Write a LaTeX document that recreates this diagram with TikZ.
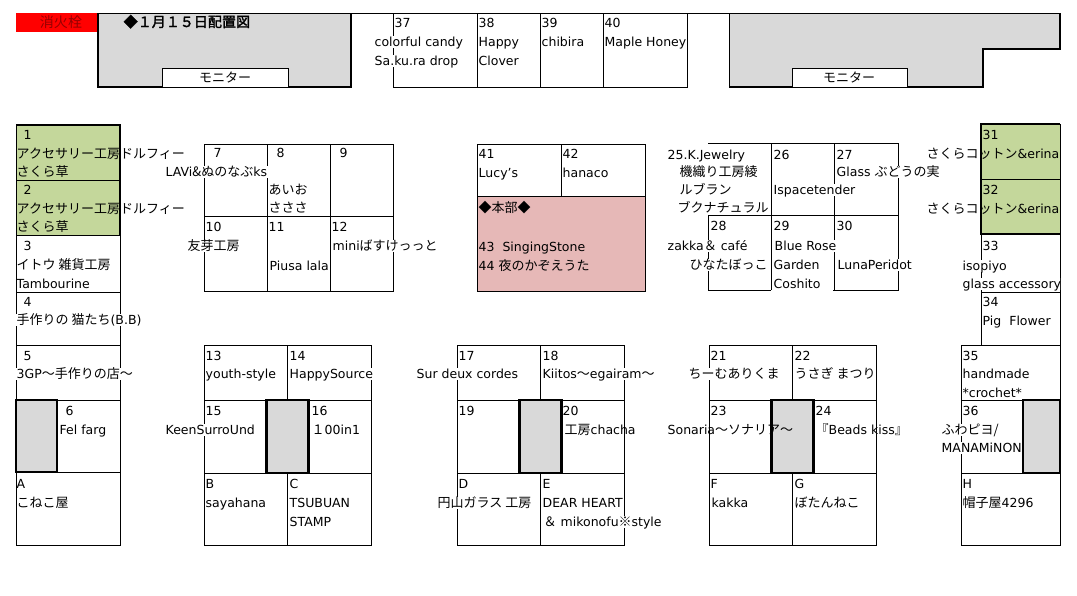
\documentclass[tikz,border=0pt]{standalone}
\usepackage{fontspec}
\setmainfont{DejaVu Sans}
\newfontfamily\jpfont{Noto Sans CJK JP}[Scale=1.04,AutoFakeBold=2]
\newcommand{\jp}[1]{{\jpfont #1}}
\usepackage{tikz}

\definecolor{booth}{RGB}{196,215,155}
\definecolor{hq}{RGB}{230,184,183}
\definecolor{wallgray}{RGB}{217,217,217}
\definecolor{hydrant}{RGB}{150,0,0}

\tikzset{
  cell/.style={draw=black,line width=0.9pt},
  wall/.style={draw=black,line width=2.2pt},
  lbl/.style={anchor=west,inner xsep=0.5pt,inner ysep=0pt,text height=10pt,text depth=2pt,font=\fontsize{12.5}{14}\selectfont},
  over/.style={lbl,fill=white}
}

\begin{document}
\begin{tikzpicture}[x=1pt,y=-1pt]
\useasboundingbox (0,0) rectangle (1077,595);

% top: hydrant, stage walls, monitors
\fill[red] (16,13) rectangle (98,32);
\node[lbl,anchor=center,text=hydrant,font=\fontsize{13.5}{15}\selectfont] (hydrant) at (61,23) {\jp{消火栓}};
\fill[wallgray] (98,13) rectangle (351,87);
\fill[wallgray] (729,13) -- (1060,13) -- (1060,49) -- (983,49) -- (983,87) -- (729,87) -- cycle;
\draw[cell] (98,13) -- (1060,13);
\draw[cell] (729,13) -- (729,87);
\draw[wall] (98,13) -- (98,87) -- (351,87) -- (351,13);
\draw[wall] (729,87) -- (983,87) -- (983,49) -- (1060,49) -- (1060,13);
\filldraw[cell,fill=white] (162,68) rectangle (288,87);
\filldraw[cell,fill=white] (792,68) rectangle (907,87);
\node[lbl,anchor=center] (mon1) at (225,78) {\jp{モニター}};
\node[lbl,anchor=center] (mon2) at (849,78) {\jp{モニター}};
\node[lbl,font=\fontsize{13.5}{16}\selectfont\bfseries] (title) at (123,23) {\jp{◆１月１５日配置図}};

% 37-40
\draw[cell] (393,13) -- (393,87) -- (687,87) -- (687,13);
\foreach \x in {477,540,603}
\draw[cell] (\x,13) -- (\x,87);

% left row 1-6, A
\fill[booth] (16,125) rectangle (120,235);
\draw[cell] (16,125) -- (16,545) -- (120,545) -- (120,235);
\foreach \y in {180,235,292,345,400,472}
\draw[cell] (16,\y) -- (120,\y);
\draw[wall] (16,125) -- (120,125) -- (120,235);
\filldraw[wall,fill=wallgray] (16,400) rectangle (57,472);

% 7-12
\draw[cell] (204,144) rectangle (393,291);
\draw[cell] (204,216) -- (393,216);
\foreach \x in {267,330}
\draw[cell] (\x,144) -- (\x,291);

% 41-44
\fill[hq] (477,196) rectangle (645,291);
\draw[cell] (477,144) rectangle (645,291);
\draw[cell] (477,196) -- (645,196);
\draw[cell] (561,144) -- (561,196);

% 25-30
\draw[cell] (708,143) -- (898,143) -- (898,290) -- (833,290);
\draw[cell] (708,215) -- (898,215);
\draw[cell] (708,215) -- (708,290) -- (771,290);
\draw[cell] (771,143) -- (771,290);
\draw[cell] (834,143) -- (834,290);

% right row 31-36, H
\fill[booth] (981,124) rectangle (1060,234);
\draw[cell] (981,179) -- (1060,179);
\draw[cell] (1060,124) -- (1060,545) -- (961,545) -- (961,345) -- (1060,345);
\draw[cell] (981,234) -- (981,345);
\draw[cell] (981,292) -- (1060,292);
\draw[cell] (961,400) -- (1060,400);
\draw[cell] (961,473) -- (1060,473);
\draw[wall] (1060,124) -- (981,124) -- (981,234) -- (1060,234);
\filldraw[wall,fill=wallgray] (1023,400) rectangle (1060,473);

% 13-C, 17-E, 21-G
\foreach \x in {204,457,709} {
\draw[cell] (\x,345) rectangle ++(167.5,200);
\draw[cell] (\x,400) -- ++(167.5,0);
\draw[cell] (\x,473) -- ++(167.5,0);
\draw[cell] (\x+83.5,345) -- ++(0,200);
\filldraw[wall,fill=wallgray] (\x+62.5,400) rectangle ++(42,73);
}

% labels, top
\node[lbl] (n37) at (394,23) {37};
\node[over] (t37a) at (374,42) {colorful candy};
\node[over] (t37b) at (374,61) {Sa.ku.ra drop};
\node[lbl] (n38) at (478,23) {38};
\node[lbl] (t38a) at (478,42) {Happy};
\node[lbl] (t38b) at (478,61) {Clover};
\node[lbl] (n39) at (541,23) {39};
\node[lbl] (t39) at (541,42) {chibira};
\node[lbl] (n40) at (604,23) {40};
\node[over] (t40) at (604,42) {Maple Honey};

% labels, left row
\node[lbl] (n1) at (23,135) {1};
\node[lbl] (t1a) at (16,154) {\jp{アクセサリー工房ドルフィー}};
\node[lbl] (t1b) at (16,172) {\jp{さくら草}};
\node[lbl] (n2) at (23,190) {2};
\node[lbl] (t2a) at (16,209) {\jp{アクセサリー工房ドルフィー}};
\node[lbl] (t2b) at (16,227) {\jp{さくら草}};
\node[lbl] (n3) at (23,246) {3};
\node[lbl] (t3a) at (16,265) {\jp{イトウ 雑貨工房}};
\node[lbl] (t3b) at (16,284) {Tambourine};
\node[lbl] (n4) at (23,302) {4};
\node[over] (t4) at (16,320) {\jp{手作りの 猫たち}(B.B)};
\node[lbl] (n5) at (23,356) {5};
\node[over] (t5) at (16,374) {3GP\jp{～手作りの店～}};
\node[lbl] (n6) at (65,411) {6};
\node[lbl] (t6) at (59,430) {Fel farg};
\node[lbl] (nA) at (16,484) {A};
\node[lbl] (tA) at (16,503) {\jp{こねこ屋}};

% labels, 7-12
\node[lbl] (n7) at (213,153) {7};
\node[lbl] (n8) at (276,153) {8};
\node[lbl] (n9) at (339,153) {9};
\node[over] (t7) at (165,172) {LAVi\jp{\&ぬのなぶ}ks};
\node[lbl] (t8a) at (268,190) {\jp{あいお}};
\node[lbl] (t8b) at (268,208) {\jp{さささ}};
\node[lbl] (n10) at (205,227) {10};
\node[lbl] (n11) at (268,227) {11};
\node[lbl] (n12) at (331,227) {12};
\node[over] (t10) at (187,246) {\jp{友芽工房}};
\node[lbl] (t11) at (269,266) {Piusa lala};
\node[over] (t12) at (332,246) {mini\jp{ばすけっっと}};

% labels, 41-44
\node[lbl] (n41) at (478,154) {41};
\node[lbl] (t41) at (478,173) {Lucy's};
\node[lbl] (n42) at (562,154) {42};
\node[lbl] (t42) at (562,173) {hanaco};
\node[lbl] (thq) at (478,208) {\jp{◆本部◆}};
\node[lbl] (t43) at (478,247) {43\ \ SingingStone};
\node[lbl] (t44) at (478,266) {44 \jp{夜のかぞえうた}};

% labels, 25-30
\node[lbl] (t25a) at (667,155) {25.K.Jewelry};
\node[lbl] (t25b) at (679,172) {\jp{機織り工房綾}};
\node[lbl] (t25c) at (679,190) {\jp{ルブラン}};
\node[lbl] (t25d) at (677,208) {\jp{ブクナチュラル}};
\node[lbl] (n26) at (773,155) {26};
\node[over] (t26) at (773,190) {Ispacetender};
\node[lbl] (n27) at (836,155) {27};
\node[over] (t27) at (836,172) {Glass \jp{ぶどうの実}};
\node[lbl] (n28) at (710,226) {28};
\node[over] (t28a) at (667,246) {zakka\jp{＆} café};
\node[over] (t28b) at (689,265) {\jp{ひなたぼっこ}};
\node[lbl] (n29) at (773,226) {29};
\node[over] (t29a) at (774,246) {Blue Rose};
\node[lbl] (t29b) at (773,265) {Garden};
\node[lbl] (t29c) at (773,284) {Coshito};
\node[lbl] (n30) at (836,226) {30};
\node[over] (t30) at (837,265) {LunaPeridot};

% labels, right row
\node[lbl] (n31) at (982,135) {31};
\node[lbl,anchor=east] (t31) at (1060,154) {\jp{さくらコットン}\&erina};
\node[lbl] (n32) at (982,190) {32};
\node[lbl,anchor=east] (t32) at (1060,209) {\jp{さくらコットン}\&erina};
\node[lbl] (n33) at (982,246) {33};
\node[over] (t33a) at (962,266) {isopiyo};
\begin{scope}
\clip (900,270) rectangle (1060,300);
\node[over] (t33b) at (962,284) {glass accessory};
\end{scope}
\node[lbl] (n34) at (982,302) {34};
\node[lbl] (t34) at (982,321) {Pig\ \ Flower};
\node[lbl] (n35) at (962,356) {35};
\node[lbl] (t35a) at (962,374) {handmade};
\node[lbl] (t35b) at (962,393) {*crochet*};
\node[lbl] (n36) at (962,411) {36};
\node[over] (t36a) at (941,430) {\jp{ふわピヨ/}};
\node[over] (t36b) at (941,448) {MANAMiNON};
\node[lbl] (nH) at (962,484) {H};
\node[lbl] (tH) at (962,503) {\jp{帽子屋}4296};

% labels, 13-C
\node[lbl] (n13) at (205,356) {13};
\node[lbl] (t13) at (205,374) {youth-style};
\node[lbl] (n14) at (289,356) {14};
\node[over] (t14) at (289,374) {HappySource};
\node[lbl] (n15) at (205,411) {15};
\node[over] (t15) at (165,430) {KeenSurroUnd};
\node[lbl] (n16) at (311,411) {16};
\node[lbl] (t16) at (311,430) {\jp{１}00in1};
\node[lbl] (nB) at (205,484) {B};
\node[lbl] (tB) at (205,503) {sayahana};
\node[lbl] (nC) at (289,484) {C};
\node[lbl] (tCa) at (289,503) {TSUBUAN};
\node[lbl] (tCb) at (289,522) {STAMP};

% labels, 17-E
\node[lbl] (n17) at (458,356) {17};
\node[over] (t17) at (416,374) {Sur deux cordes};
\node[lbl] (n18) at (542,356) {18};
\node[over] (t18) at (542,374) {Kiitos\jp{～}egairam\jp{～}};
\node[lbl] (n19) at (458,411) {19};
\node[lbl] (n20) at (562,411) {20};
\node[lbl] (t20) at (564,430) {\jp{工房}chacha};
\node[lbl] (nD) at (458,484) {D};
\node[over] (tD) at (437,503) {\jp{円山ガラス 工房}};
\node[lbl] (nE) at (542,484) {E};
\node[lbl] (tEa) at (542,503) {DEAR HEART};
\node[over] (tEb) at (543,522) {\jp{＆} mikonofu\jp{※}style};

% labels, 21-G
\node[lbl] (n21) at (710,356) {21};
\node[over] (t21) at (688,374) {\jp{ちーむありくま}};
\node[lbl] (n22) at (794,356) {22};
\node[lbl] (t22) at (794,374) {\jp{うさぎ まつり}};
\node[lbl] (n23) at (710,411) {23};
\node[lbl] (t23) at (667,430) {Sonaria\jp{～ソナリア～}};
\node[lbl] (n24) at (815,411) {24};
\node[lbl] (t24) at (815,430) {\jp{『}Beads kiss\jp{』}};
\node[lbl] (nF) at (710,484) {F};
\node[lbl] (tF) at (711,503) {kakka};
\node[lbl] (nG) at (794,484) {G};
\node[lbl] (tG) at (794,503) {\jp{ぼたんねこ}};
\end{tikzpicture}
\end{document}
